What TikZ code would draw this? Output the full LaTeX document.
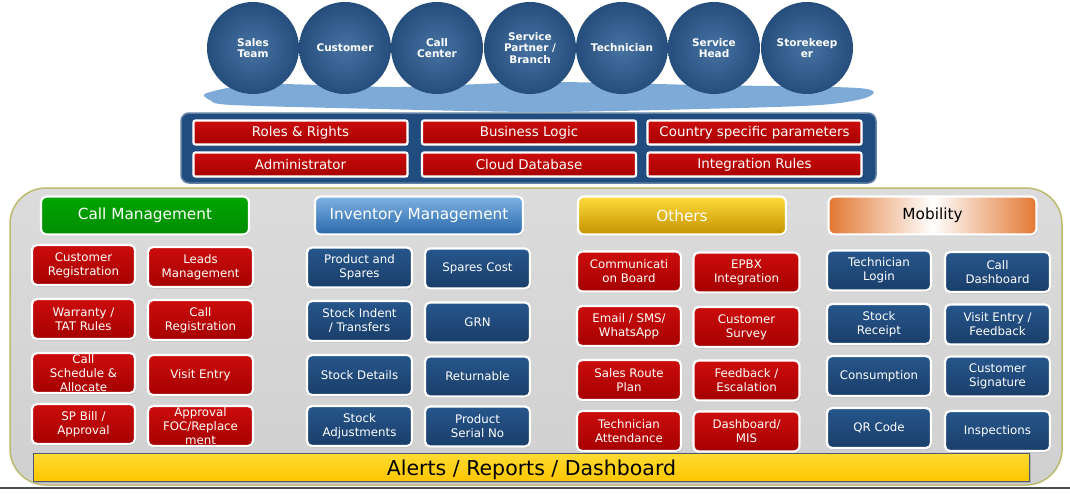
\documentclass[tikz,border=0pt]{standalone}
\usepackage{fontspec}
\setmainfont{DejaVu Sans}
\usetikzlibrary{shadows}

\definecolor{redtop}{RGB}{204,12,12}
\definecolor{redbot}{RGB}{165,0,0}
\definecolor{bluetop}{RGB}{38,86,140}
\definecolor{bluebot}{RGB}{26,62,105}
\definecolor{actorin}{RGB}{70,114,162}
\definecolor{actorout}{RGB}{38,78,124}
\definecolor{puddle}{RGB}{125,170,214}
\definecolor{bandblue}{RGB}{33,76,128}
\definecolor{panelgray}{RGB}{208,208,208}
\definecolor{paneledge}{RGB}{188,186,110}
\definecolor{alertyellow}{RGB}{255,210,0}

\begin{document}
\begin{tikzpicture}[x=1pt, y=-1pt,
    actor/.style={circle, minimum size=92, inner sep=0, align=center, text=white,
      inner color=actorin, outer color=actorout,
      font=\bfseries\fontsize{10.5}{11.5}\selectfont},
    tile/.style={draw=white, line width=2.2pt, rounded corners=5pt, inner sep=0,
      align=center, text=white, minimum height=40,
      drop shadow={shadow xshift=1pt, shadow yshift=-1.5pt, opacity=.35},
      font=\fontsize{11.8}{14}\selectfont},
    redtile/.style={tile, top color=redtop, bottom color=redbot},
    bluetile/.style={tile, top color=bluetop, bottom color=bluebot},
    ruletile/.style={redtile, minimum width=214, minimum height=24,
      rounded corners=2pt, font=\fontsize{13.4}{15}\selectfont},
    header/.style={tile, minimum width=208, minimum height=38, rounded corners=6pt,
      font=\fontsize{15.3}{17}\selectfont}]
  \useasboundingbox (0,0) rectangle (1070,493);

  % users on the cloud
  \fill[puddle] plot[smooth cycle] coordinates {(207,93) (262,84) (400,87) (540,82)
    (700,85) (858,88) (868,97) (820,105) (700,109) (540,112) (380,109) (232,105) (210,100)};
  \foreach \x/\txt [count=\i] in {253/{Sales\\Team}, 345/Customer, 437/{Call\\Center},
      530/{Service\\Partner /\\Branch}, 622/Technician, 714/{Service\\Head},
      807/{Storekeep\\er}}
    \node[actor] (actor\i) at (\x,48) {\txt};

  % platform band
  \draw[fill=bandblue, draw=bandblue!70!white, line width=1.5pt, rounded corners=8pt]
    (181,113) rectangle (876,183);
  \node[ruletile] (roles) at (300.5,132.5) {Roles \& Rights};
  \node[ruletile] (logic) at (529,132.5) {Business Logic};
  \node[ruletile] (country) at (754.5,132.5) {Country specific parameters};
  \node[ruletile] (admin) at (300.5,164.5) {Administrator};
  \node[ruletile] (cloud) at (529,164.5) {Cloud Database};
  \node[ruletile] (integ) at (754.5,164.5) {Integration Rules};

  % modules panel
  \draw[top color=panelgray!75!white, bottom color=panelgray, draw=paneledge,
    line width=1.5pt, rounded corners=36pt] (10,188) rectangle (1062,485);
  \draw[gray!60!black, line width=2pt] (0,488) -- (1070,488);

  % Call Management
  \node[header, top color=green!65!black, bottom color=green!55!black] (callmgmt)
    at (145,215.5) {Call Management};
  \node[redtile, minimum width=103] (custreg) at (83.5,265) {Customer\\Registration};
  \node[redtile, minimum width=105] (leads) at (200.5,267) {Leads\\Management};
  \node[redtile, minimum width=103] (warranty) at (83.5,319) {Warranty /\\TAT Rules};
  \node[redtile, minimum width=105] (callreg) at (200.5,320) {Call\\Registration};
  \node[redtile, minimum width=103] (schedule) at (83.5,373) {Call\\Schedule \&\\Allocate};
  \node[redtile, minimum width=105] (visit) at (200.5,375) {Visit Entry};
  \node[redtile, minimum width=103] (spbill) at (83.5,424) {SP Bill /\\Approval};
  \node[redtile, minimum width=105] (approval) at (200.5,426) {Approval\\FOC/Replace\\ment};

  % Inventory Management
  \node[header, top color={rgb,255:red,125;green,178;blue,228},
    bottom color={rgb,255:red,42;green,104;blue,170}] (invmgmt)
    at (419,215.5) {Inventory Management};
  \node[bluetile, minimum width=105] (product) at (359.5,267.5) {Product and\\Spares};
  \node[bluetile, minimum width=105] (sparecost) at (477.5,268.5) {Spares Cost};
  \node[bluetile, minimum width=105] (indent) at (359.5,321) {Stock Indent\\/ Transfers};
  \node[bluetile, minimum width=105] (grn) at (477.5,322.5) {GRN};
  \node[bluetile, minimum width=105] (stockdet) at (359.5,375) {Stock Details};
  \node[bluetile, minimum width=105] (returnable) at (477.5,376.5) {Returnable};
  \node[bluetile, minimum width=105] (adjust) at (359.5,426) {Stock\\Adjustments};
  \node[bluetile, minimum width=105] (serial) at (477.5,426.5) {Product\\Serial No};

  % Others
  \node[header, top color={rgb,255:red,255;green,220;blue,60},
    bottom color={rgb,255:red,196;green,146;blue,0}] (others)
    at (682,215.5) {Others};
  \node[redtile, minimum width=104] (board) at (629,271.5) {Communicati\\on Board};
  \node[redtile, minimum width=106] (epbx) at (746.5,272.5) {EPBX\\Integration};
  \node[redtile, minimum width=104] (email) at (629,326) {Email / SMS/\\WhatsApp};
  \node[redtile, minimum width=106] (survey) at (746.5,327) {Customer\\Survey};
  \node[redtile, minimum width=104] (route) at (629,380) {Sales Route\\Plan};
  \node[redtile, minimum width=106] (feedback) at (746.5,380.5) {Feedback /\\Escalation};
  \node[redtile, minimum width=104] (attend) at (629,431) {Technician\\Attendance};
  \node[redtile, minimum width=106] (mis) at (746.5,431.5) {Dashboard/\\MIS};

  % Mobility
  \node[header, text=black, left color={rgb,255:red,226;green,120;blue,50},
    right color={rgb,255:red,226;green,120;blue,50}, middle color=white] (mobility)
    at (932.5,215.5) {Mobility};
  \node[bluetile, minimum width=104] (login) at (879,270.5) {Technician\\Login};
  \node[bluetile, minimum width=105] (calldash) at (997.5,272) {Call\\Dashboard};
  \node[bluetile, minimum width=104] (receipt) at (879,324) {Stock\\Receipt};
  \node[bluetile, minimum width=105] (visitfb) at (997.5,324.5) {Visit Entry /\\Feedback};
  \node[bluetile, minimum width=104] (consume) at (879,376) {Consumption};
  \node[bluetile, minimum width=105] (signature) at (997.5,376.5) {Customer\\Signature};
  \node[bluetile, minimum width=104] (qr) at (879,428) {QR Code};
  \node[bluetile, minimum width=105] (inspect) at (997.5,431) {Inspections};

  % alerts bar
  \node[draw={rgb,255:red,80;green,88;blue,110}, line width=1pt,
    top color=alertyellow!80!white, bottom color=alertyellow!85!orange,
    minimum width=996, minimum height=28, inner sep=0, text depth=0pt,
    drop shadow={shadow xshift=1.5pt, shadow yshift=-1.5pt, opacity=.4},
    font=\fontsize{20.5}{22}\selectfont] (alerts) at (531.5,467.5)
    {Alerts / Reports / Dashboard};
\end{tikzpicture}
\end{document}
